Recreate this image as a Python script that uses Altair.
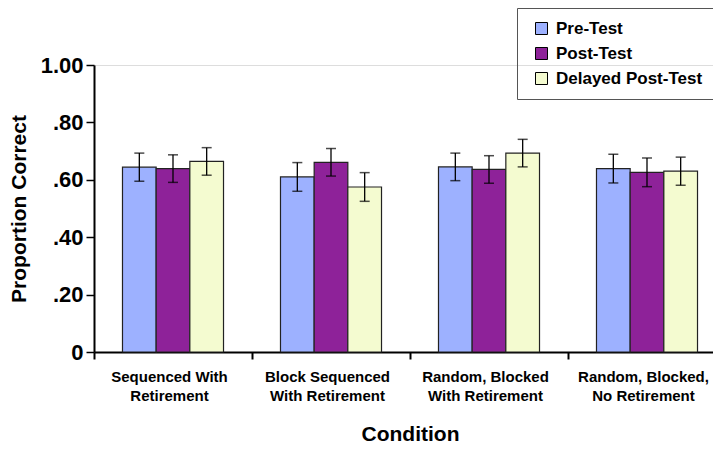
import altair as alt
import pandas as pd

conditions = ["Sequenced With|Retirement", "Block Sequenced|With Retirement",
              "Random, Blocked|With Retirement", "Random, Blocked,|No Retirement"]
tests = ["Pre-Test", "Post-Test", "Delayed Post-Test"]
colors = ["#9DB1FF", "#8E2299", "#F4FBD0"]

pre = [0.644, 0.610, 0.645, 0.639]
post = [0.639, 0.661, 0.636, 0.626]
delayed = [0.664, 0.575, 0.693, 0.630]
pre_err = [0.049, 0.050, 0.048, 0.050]
post_err = [0.048, 0.048, 0.048, 0.050]
delayed_err = [0.048, 0.050, 0.048, 0.049]

rows = []
for t, vals, errs in zip(tests, [pre, post, delayed], [pre_err, post_err, delayed_err]):
    for c, v, e in zip(conditions, vals, errs):
        rows.append({"cond": c, "test": t, "value": v, "lo": v - e, "hi": v + e})
df = pd.DataFrame(rows)

FONT = "Liberation Sans"

x_enc = alt.X(
    "cond:N", sort=conditions,
    scale=alt.Scale(range=[0, 632], paddingInner=0, paddingOuter=0),
    axis=alt.Axis(
        title="Condition", tickBand="extent", tickSize=7, tickWidth=2, tickColor="black",
        domainColor="black", domainWidth=2, labelAngle=0,
        labelExpr="split(datum.label, '|')", labelFontSize=15, labelFontWeight="bold",
        labelLineHeight=19, labelPadding=10, labelColor="black", labelLimit=300,
        labelOffset=-4,
        titleFontSize=21, titleFontWeight="bold", titlePadding=20, titleColor="black",
    ),
)
xoff = alt.XOffset("test:N", sort=tests, scale=alt.Scale(paddingOuter=0.846, paddingInner=0))

y_enc = alt.Y(
    "value:Q",
    scale=alt.Scale(domain=[0, 1], nice=False, zero=True),
    axis=alt.Axis(
        title="Proportion Correct", values=[0, 0.1, 0.2, 0.3, 0.4, 0.5, 0.6, 0.7, 0.8, 0.9, 1.0],
        labelExpr="(round(datum.value*10) % 2 == 1) ? '' : (datum.value == 0 ? '0' : (datum.value >= 1 ? '1.00' : replace(format(datum.value, '.2f'), '0.', '.')))",
        tickSize=8, tickWidth=1.5, tickColor="black", domainColor="black", domainWidth=2,
        labelFontSize=22, labelFontWeight="bold", labelPadding=3, labelColor="black",
        titleFontSize=21, titleFontWeight="bold", titlePadding=11, titleColor="black",
        grid=False,
    ),
)

bars = alt.Chart(df).mark_bar(stroke="#222222", strokeWidth=1.2).encode(
    x=x_enc, xOffset=xoff, y=y_enc,
    color=alt.Color(
        "test:N", sort=tests, scale=alt.Scale(domain=tests, range=colors),
        legend=alt.Legend(
            title=None, orient="none", legendX=423, legendY=-57, direction="vertical",
            symbolType="square", symbolSize=144, symbolStrokeColor="black",
            symbolStrokeWidth=1, symbolOffset=4, labelOffset=6,
            labelFontSize=17, labelFontWeight="bold", labelColor="black",
            labelExpr="datum.label + '            '", labelLimit=400,
            padding=12, rowPadding=7, strokeColor="#555555",
        ),
    ),
)

err = alt.Chart(df).mark_rule(color="black", strokeWidth=1.3).encode(
    x=alt.X("cond:N", sort=conditions), xOffset=alt.XOffset("test:N", sort=tests),
    y="lo:Q", y2="hi:Q",
)
cap_lo = alt.Chart(df).mark_tick(color="black", thickness=1.5, size=10).encode(
    x=alt.X("cond:N", sort=conditions), xOffset=alt.XOffset("test:N", sort=tests),
    y="lo:Q",
)
cap_hi = alt.Chart(df).mark_tick(color="black", thickness=1.5, size=10).encode(
    x=alt.X("cond:N", sort=conditions), xOffset=alt.XOffset("test:N", sort=tests),
    y="hi:Q",
)

chart = alt.layer(bars, err, cap_lo, cap_hi).properties(
    width=619, height=287,
    autosize=alt.AutoSizeParams(type="none"),
    padding={"left": 86, "top": 57, "right": 0, "bottom": 94},
).configure_view(stroke=None).configure(font=FONT)

chart.save("out.html", embed_options={"renderer": "svg", "actions": False})
